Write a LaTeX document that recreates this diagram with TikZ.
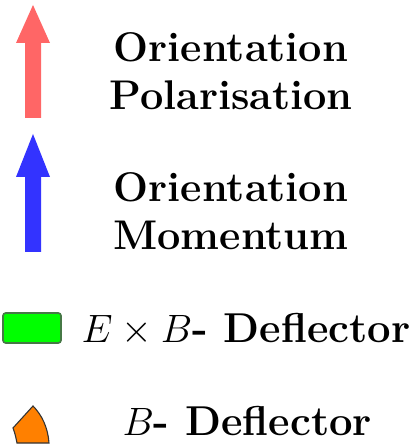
\documentclass[tikz,border=0pt]{standalone}
\usepackage{amsmath,amssymb}
\usepackage{xcolor}
\usepackage{tikz}
\usetikzlibrary{positioning}
\definecolor{polred}{RGB}{255,102,102}
\definecolor{momblue}{RGB}{51,51,255}
\definecolor{exbgreen}{RGB}{0,255,0}
\definecolor{exbedge}{RGB}{70,120,70}
\definecolor{borange}{RGB}{255,128,0}

\begin{document}
\begin{tikzpicture}[x=0.364pt,y=-0.364pt,
    legtext/.style={anchor=base,inner sep=0pt,font=\fontsize{15.1}{18}\selectfont\bfseries},
    deftext/.style={anchor=base west,inner sep=0pt,font=\fontsize{15.2}{18}\selectfont}]
  \useasboundingbox (0,0) rectangle (416,445);
  % --- arrows (x = 16..50) ---
  \fill[polred] (25,118) -- (25,43) -- (16,43) -- (33,5) -- (50,43)
        -- (41,43) -- (41,118) -- cycle;
  \fill[momblue] (25,252) -- (25,177) -- (16,177) -- (33,134) -- (50,177)
        -- (41,177) -- (41,252) -- cycle;
  % --- labels of the arrows ---
  \node[legtext] (pol1) at (231,62) {Orientation};
  \node[legtext] (pol2) at (231,110) {Polarisation};
  \node[legtext] (mom1) at (231,202) {Orientation};
  \node[legtext] (mom2) at (231,250) {Momentum};
  % --- E x B deflector ---
  \filldraw[exbgreen,draw=exbedge,line width=0.6pt,rounded corners=1pt]
        (3,313) rectangle (61,343);
  \node[deftext] (exb) at (81,342) {$E\times B$\textbf{- Deflector}};
  % --- B deflector ---
  \filldraw[borange,draw=black!80,line width=0.4pt]
        (33,406) -- (13,428) .. controls (15,433) and (16,438) .. (17,443)
        -- (49,443) .. controls (48,428) and (42,415) .. cycle;
  \node[deftext] (bdef) at (122,435) {$B$\textbf{- Deflector}};
\end{tikzpicture}
\end{document}
